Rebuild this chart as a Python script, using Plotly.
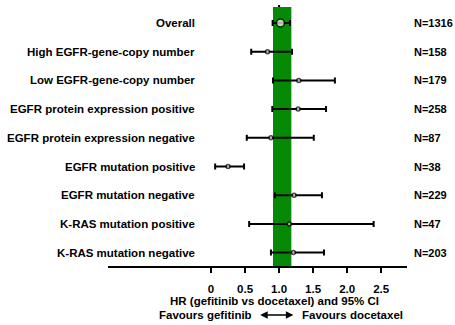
import plotly.graph_objects as go

categories = ["Overall", "High EGFR-gene-copy number", "Low EGFR-gene-copy number",
              "EGFR protein expression positive", "EGFR protein expression negative",
              "EGFR mutation positive", "EGFR mutation negative",
              "K-RAS mutation positive", "K-RAS mutation negative"]
hr = [1.02, 0.83, 1.29, 1.28, 0.88, 0.25, 1.22, 1.15, 1.21]
lower = [0.905, 0.59, 0.91, 0.90, 0.525, 0.06, 0.94, 0.56, 0.88]
upper = [1.16, 1.19, 1.82, 1.69, 1.51, 0.485, 1.63, 2.39, 1.66]
n_labels = ["N=1316", "N=158", "N=179", "N=258", "N=87", "N=38", "N=229", "N=47", "N=203"]
tick_vals = [0, 0.5, 1.0, 1.5, 2.0, 2.5]
tick_text = ["0", "0.5", "1.0", "1.5", "2.0", "2.5"]
band = [0.91, 1.18]

FONT = "Liberation Sans, Arial, sans-serif"
ypos = list(range(len(categories)))

fig = go.Figure()
sizes = [8] + [4] * (len(categories) - 1)
fig.add_trace(go.Scatter(
    x=hr, y=ypos, mode="markers",
    marker=dict(size=sizes, color="white", line=dict(color="black", width=1.5)),
    error_x=dict(type="data", symmetric=False,
                 array=[u - h for u, h in zip(upper, hr)],
                 arrayminus=[h - l for h, l in zip(hr, lower)],
                 color="black", thickness=2, width=3),
    showlegend=False, cliponaxis=False))

fig.add_shape(type="rect", xref="x", yref="y", x0=band[0], x1=band[1], y0=-0.56, y1=8.467,
              fillcolor="#068a06", line=dict(width=0), layer="below")
fig.add_shape(type="line", xref="x", yref="paper", x0=1.0, x1=1.0, y0=0, y1=1,
              line=dict(color="black", width=2, dash="dot"), layer="below")

lab_font = dict(size=11.5, family=FONT, color="black", weight="bold")
n_font = dict(size=11, family=FONT, color="black", weight="bold")
for i, (c, n) in enumerate(zip(categories, n_labels)):
    fig.add_annotation(x=-0.2, y=i, xref="x", yref="y", text=c, showarrow=False,
                       xanchor="right", yanchor="middle", font=lab_font)
    fig.add_annotation(x=1.017, y=i, xref="paper", yref="y", text=n, showarrow=False,
                       xanchor="left", yanchor="middle", font=n_font)

fig.add_annotation(x=0.93, y=-0.134, xref="x", yref="paper", text="HR (gefitinib vs docetaxel) and 95% CI",
                   showarrow=False, xanchor="center", yanchor="middle", font=lab_font)
fig.add_annotation(x=0.63, y=-0.188, xref="x", yref="paper", text="Favours gefitinib",
                   showarrow=False, xanchor="right", yanchor="middle", font=lab_font)
fig.add_annotation(x=1.31, y=-0.188, xref="x", yref="paper", text="Favours docetaxel",
                   showarrow=False, xanchor="left", yanchor="middle", font=lab_font)
fig.add_annotation(x=1.21, y=-0.188, ax=0.70, ay=0, xref="x", yref="paper", axref="x", ayref="pixel",
                   text="", showarrow=True, arrowhead=2, arrowside="end+start", arrowsize=1,
                   arrowwidth=1.5, arrowcolor="black")

fig.update_layout(
    width=455, height=325, margin=dict(l=108, r=48, t=5, b=59),
    plot_bgcolor="white", paper_bgcolor="white",
    font=dict(family=FONT, size=11, color="black", weight="bold"),
    xaxis=dict(range=[-1.515, 2.88], tickvals=tick_vals, ticktext=tick_text,
               showgrid=False, zeroline=False, showline=True, linecolor="black", linewidth=2,
               ticks="outside", ticklen=5, tickwidth=2, tickcolor="black", ticklabelstandoff=6,
               tickfont=dict(size=11.5, family=FONT, color="black", weight="bold")),
    yaxis=dict(range=[8.467, -0.627], showgrid=False, zeroline=False, showline=False,
               showticklabels=False, ticks=""),
)
fig.write_html("out.html")
